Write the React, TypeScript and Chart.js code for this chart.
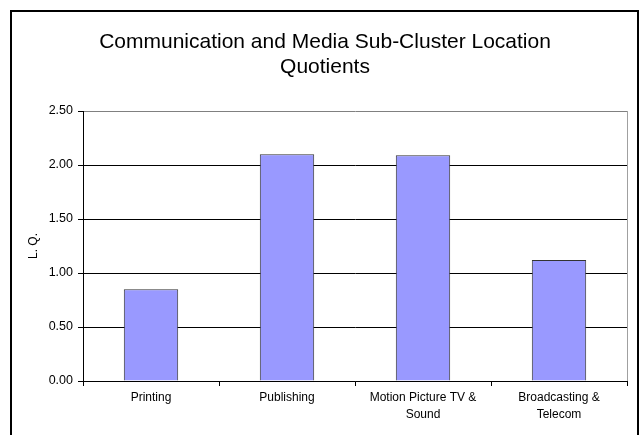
import React, { useEffect, useRef } from "react";
import { Chart, registerables } from "chart.js";

Chart.register(...registerables);

const titleLines = ["Communication and Media Sub-Cluster Location", "Quotients"];
const yAxisTitle = "L. Q.";
const categories: string[][] = [
  ["Printing"],
  ["Publishing"],
  ["Motion Picture TV &", "Sound"],
  ["Broadcasting &", "Telecom"],
];
const lqValues = [0.85, 2.1, 2.09, 1.12];
const yMin = 0;
const yMax = 2.5;
const yStep = 0.5;

const FONT = "'Liberation Sans', Arial, Helvetica, sans-serif";

const framePlugin = {
  id: "frameAndBorder",
  beforeDraw(chart: any) {
    const { ctx } = chart;
    ctx.save();
    ctx.fillStyle = "#ffffff";
    ctx.fillRect(0, 0, chart.width, chart.height);
    ctx.restore();
  },
  afterDraw(chart: any) {
    const { ctx, chartArea } = chart;
    ctx.save();
    // plot-area border on the right side
    ctx.strokeStyle = "#a0a0a0";
    ctx.lineWidth = 1;
    ctx.beginPath();
    ctx.moveTo(Math.round(chartArea.right) + 0.5, Math.round(chartArea.top));
    ctx.lineTo(Math.round(chartArea.right) + 0.5, Math.round(chartArea.bottom));
    ctx.stroke();
    // outer frame
    ctx.strokeStyle = "#000000";
    ctx.lineWidth = 2;
    ctx.strokeRect(11, 11, chart.width - 17, chart.height + 60);
    ctx.restore();
  },
};

export default function App() {
  const canvasRef = useRef<HTMLCanvasElement | null>(null);

  useEffect(() => {
    if (!canvasRef.current) return;
    Chart.defaults.font.family = FONT;
    const chart = new Chart(canvasRef.current, {
      type: "bar",
      data: {
        labels: categories,
        datasets: [
          {
            label: "L. Q.",
            data: lqValues,
            backgroundColor: "#9999FF",
            borderColor: "#333333",
            borderWidth: 1,
            categoryPercentage: 1,
            barPercentage: 0.4,
          },
        ],
      },
      options: {
        responsive: false,
        animation: false,
        layout: { padding: { left: 23, right: 17, top: 0, bottom: 0 } },
        plugins: {
          legend: { display: false },
          tooltip: { enabled: false },
          title: {
            display: true,
            text: titleLines,
            color: "#000000",
            font: { family: FONT, size: 21, weight: "normal", lineHeight: 25 / 21 },
            padding: { top: 30, bottom: 31 },
          },
        },
        scales: {
          x: {
            grid: {
              display: true,
              offset: true,
              drawOnChartArea: false,
              drawTicks: true,
              tickLength: 5,
              color: "#000000",
            },
            border: { display: true, color: "#000000", width: 1 },
            ticks: {
              color: "#000000",
              font: { family: FONT, size: 12, lineHeight: 17 / 12 },
              padding: 3,
              maxRotation: 0,
              autoSkip: false,
            },
            afterFit: (s: any) => {
              s.height = 54;
            },
          },
          y: {
            min: yMin,
            max: yMax,
            grid: {
              color: (c: any) => (c.tick && c.tick.value === yMax ? "#808080" : "#000000"),
              lineWidth: 1,
              drawTicks: true,
              tickLength: 5,
              tickColor: "#000000",
            },
            border: { display: true, color: "#000000", width: 1 },
            ticks: {
              stepSize: yStep,
              color: "#000000",
              font: { family: FONT, size: 12.5 },
              padding: 5,
              callback: (v: any) => Number(v).toFixed(2),
            },
            title: {
              display: true,
              text: yAxisTitle,
              color: "#000000",
              font: { family: FONT, size: 12 },
              padding: { top: 3, bottom: 4 },
            },
            afterFit: (s: any) => {
              s.width = 60;
            },
          },
        },
      },
      plugins: [framePlugin],
    } as any);
    return () => chart.destroy();
  }, []);

  return (
    <div style={{ position: "fixed", left: 0, top: 0, width: 644, height: 435, overflow: "hidden", background: "#fff" }}>
      <canvas ref={canvasRef} width={644} height={435} style={{ display: "block", width: 644, height: 435 }} />
    </div>
  );
}
